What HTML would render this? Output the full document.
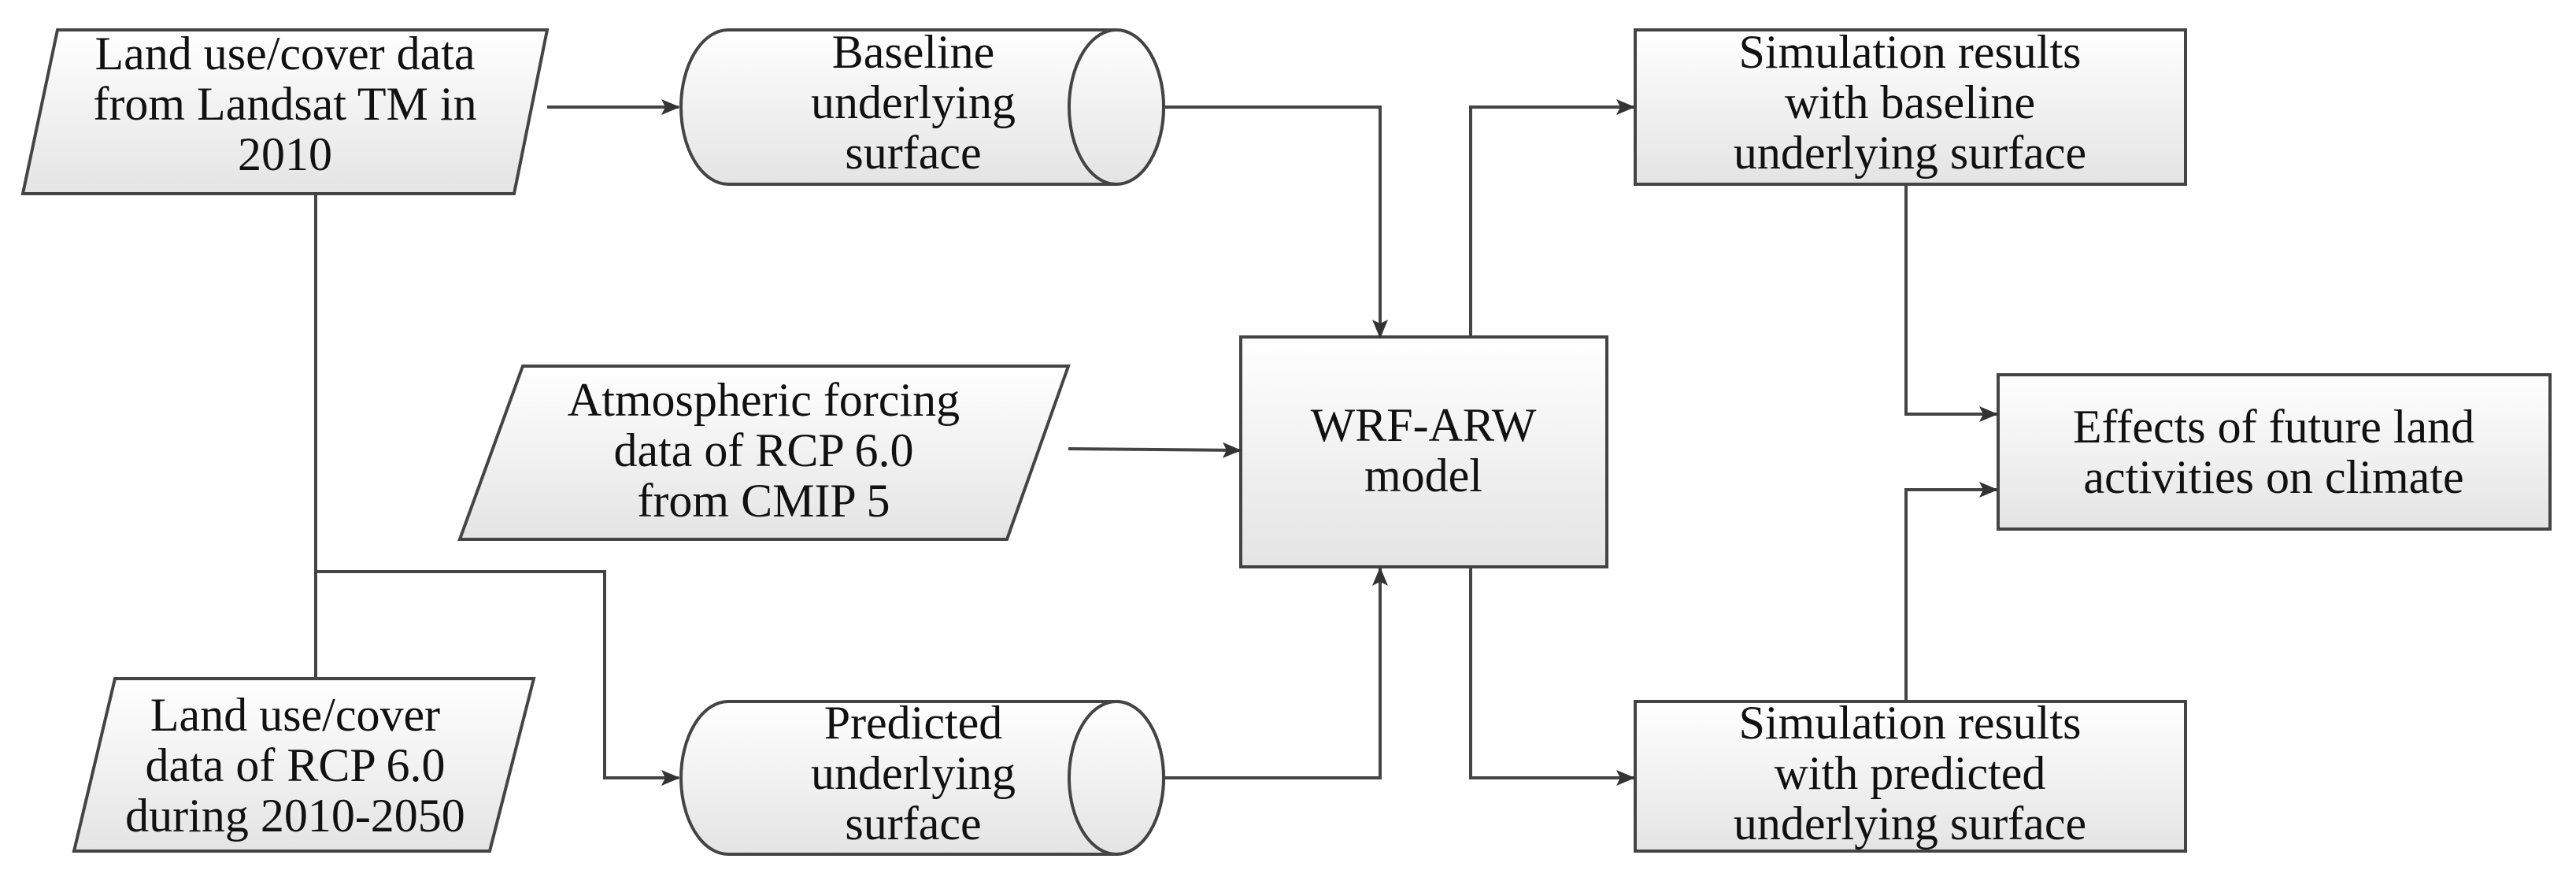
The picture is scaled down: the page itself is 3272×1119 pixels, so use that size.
<!DOCTYPE html>
<html><head><meta charset="utf-8"><style>
html,body{margin:0;padding:0;background:#fff;}
svg{display:block;}
text{font-family:"Liberation Serif",serif;font-size:60px;fill:#111;text-anchor:middle;}
</style></head><body>
<svg width="3272" height="1119" viewBox="0 0 3272 1119" xmlns="http://www.w3.org/2000/svg">
<defs>
<linearGradient id="g" x1="0" y1="0" x2="0" y2="1"><stop offset="0" stop-color="#ffffff"/><stop offset="1" stop-color="#e4e4e4"/></linearGradient>
<marker id="a" markerWidth="12" markerHeight="12" refX="11" refY="6" orient="auto" markerUnits="userSpaceOnUse"><path d="M0,0 L12,6 L0,12 z" fill="#333"/></marker>
<marker id="b" markerWidth="24" markerHeight="20" refX="22" refY="10" orient="auto" markerUnits="userSpaceOnUse"><path d="M0,0 L24,10 L0,20 L5,10 z" fill="#333"/></marker>
</defs>
<g stroke="#444" stroke-width="4" fill="url(#g)">
<!-- para1 -->
<polygon points="73,38 695,38 653,246 29,246"/>
<!-- cyl1 -->
<path d="M925,38 L1418,38 A60,98 0 0 1 1418,234 L925,234 A60,98 0 0 1 925,38 z"/>
<ellipse cx="1418" cy="136" rx="60" ry="98"/>
<!-- para2 -->
<polygon points="664,465 1357,465 1279,685 584,685"/>
<!-- WRF -->
<rect x="1576" y="428" width="465" height="292"/>
<!-- sim1 -->
<rect x="2077" y="38" width="699" height="196"/>
<!-- effects -->
<rect x="2538" y="476" width="701" height="196"/>
<!-- sim2 -->
<rect x="2077" y="891" width="699" height="190"/>
<!-- cyl2 -->
<path d="M925,891 L1418,891 A60,97 0 0 1 1418,1085 L925,1085 A60,97 0 0 1 925,891 z"/>
<ellipse cx="1418" cy="988" rx="60" ry="97"/>
<!-- para3 -->
<polygon points="146,862 678,862 622,1081 94,1081"/>
</g>
<g stroke="#444" stroke-width="4" fill="none">
<path d="M695,136 L862,136" marker-end="url(#b)"/>
<path d="M1478,136 L1753,136 L1753,428" marker-end="url(#b)"/>
<path d="M1357,570 L1575,572" marker-end="url(#b)"/>
<path d="M1868,428 L1868,136 L2075,136" marker-end="url(#b)"/>
<path d="M2421,234 L2421,526 L2536,526" marker-end="url(#b)"/>
<path d="M2421,891 L2421,622 L2536,622" marker-end="url(#b)"/>
<path d="M1868,720 L1868,988 L2075,988" marker-end="url(#b)"/>
<path d="M1478,988 L1753,988 L1753,722" marker-end="url(#b)"/>
<path d="M401,246 L401,862"/>
<path d="M401,726 L768,726 L768,988 L862,988" marker-end="url(#b)"/>
</g>
<text x="362" y="88">Land use/cover data</text>
<text x="362" y="152">from Landsat TM in</text>
<text x="362" y="216">2010</text>
<text x="1160" y="86">Baseline</text>
<text x="1160" y="150">underlying</text>
<text x="1160" y="214">surface</text>
<text x="970" y="528">Atmospheric forcing</text>
<text x="970" y="592">data of RCP 6.0</text>
<text x="970" y="656">from CMIP 5</text>
<text x="1808" y="560">WRF-ARW</text>
<text x="1808" y="624">model</text>
<text x="2426" y="86">Simulation results</text>
<text x="2426" y="150">with baseline</text>
<text x="2426" y="214">underlying surface</text>
<text x="2888" y="562">Effects of future land</text>
<text x="2888" y="626">activities on climate</text>
<text x="2426" y="938">Simulation results</text>
<text x="2426" y="1002">with predicted</text>
<text x="2426" y="1066">underlying surface</text>
<text x="1160" y="938">Predicted</text>
<text x="1160" y="1002">underlying</text>
<text x="1160" y="1066">surface</text>
<text x="375" y="928">Land use/cover</text>
<text x="375" y="992">data of  RCP 6.0</text>
<text x="375" y="1056">during 2010-2050</text>
</svg>
</body></html>
